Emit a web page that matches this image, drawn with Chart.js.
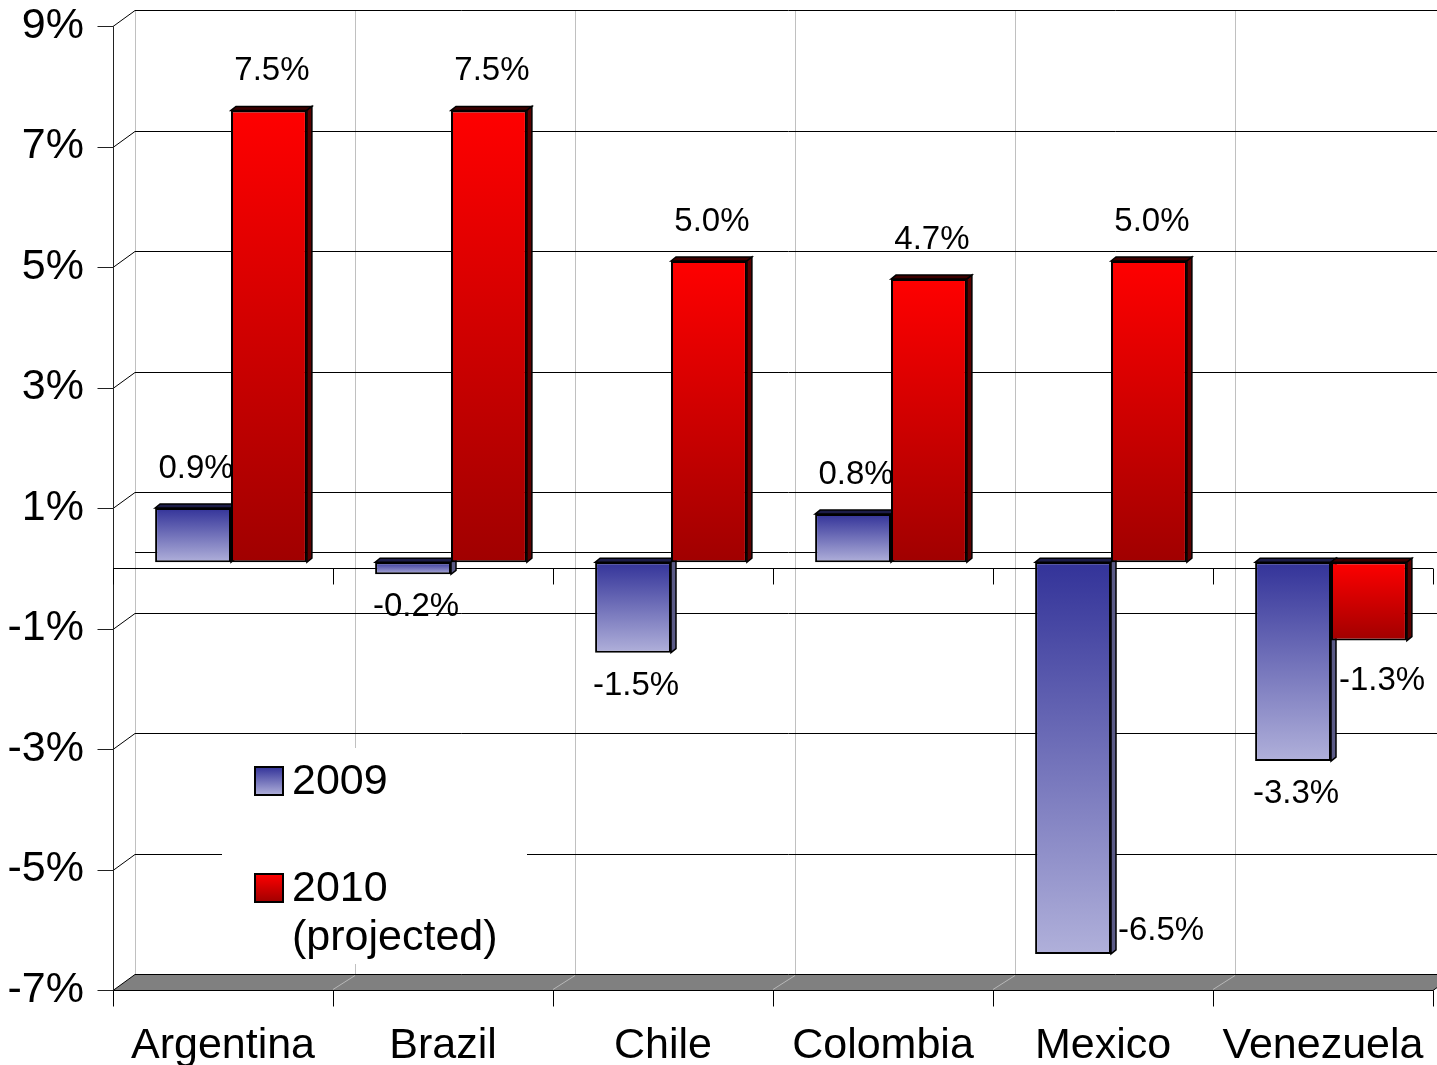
<!DOCTYPE html>
<html>
<head>
<meta charset="utf-8">
<title>Latin America growth</title>
<script src="https://cdn.jsdelivr.net/npm/chart.js@4.4.1/dist/chart.umd.min.js"></script>
<style>
  html, body { margin: 0; padding: 0; background: #fff; overflow: hidden; }
  #wrap { width: 1441px; height: 1065px; }
</style>
</head>
<body>
<div id="wrap"><canvas id="growthChart" width="1441" height="1065"></canvas></div>
<script>
// Values
const countries = ['Argentina', 'Brazil', 'Chile', 'Colombia', 'Mexico', 'Venezuela'];
const growth2009 = [0.9, -0.2, -1.5, 0.8, -6.5, -3.3];
const growth2010 = [7.5, 7.5, 5.0, 4.7, 5.0, -1.3];
const seriesNames = ['2009', '2010\n(projected)'];
const yTicks = [-7, -5, -3, -1, 1, 3, 5, 7, 9];

// fake 3D offsets (bar plane is the chart area)
const FRONT = { dx: -8, dy: 6 };
const BACK = { dx: 14, dy: -10 };
const DEPTH = { dx: 5, dy: -4 };
const FONT = "'Liberation Sans', Arial, sans-serif";

const blueStops = ['#333399', '#b0b0da'];
const redStops = ['#ff0000', '#a00000'];
const topFace = ['#1c1c48', '#3c0000'];
const sideFace = ['#5a5a86', '#5a0000'];

function barGradient(context, stops) {
  const chart = context.chart;
  if (!chart.chartArea || context.type !== 'data') return stops[0];
  const y = chart.scales.y;
  const v = context.raw;
  const p1 = y.getPixelForValue(Math.max(v, 0));
  const p2 = y.getPixelForValue(Math.min(v, 0));
  const g = chart.ctx.createLinearGradient(0, p1, 0, p2 + 0.01);
  g.addColorStop(0, stops[0]);
  g.addColorStop(1, stops[1]);
  return g;
}

function line(ctx, x1, y1, x2, y2) {
  ctx.beginPath();
  ctx.moveTo(x1, y1);
  ctx.lineTo(x2, y2);
  ctx.stroke();
}

function poly(ctx, pts, fill, stroke) {
  ctx.beginPath();
  ctx.moveTo(pts[0][0], pts[0][1]);
  for (let i = 1; i < pts.length; i++) ctx.lineTo(pts[i][0], pts[i][1]);
  ctx.closePath();
  if (fill) { ctx.fillStyle = fill; ctx.fill(); }
  if (stroke) { ctx.strokeStyle = stroke; ctx.stroke(); }
}

// walls, floor, axes and bar sides, all behind the bar fronts
const wallPlugin = {
  id: 'wall3d',
  beforeDatasetsDraw(chart) {
    const { ctx, chartArea: a, scales: { y } } = chart;
    const yMin = yTicks[0], yMax = yTicks[yTicks.length - 1];
    const n = countries.length;
    const catW = (a.right - a.left) / n;
    const py = v => Math.round(y.getPixelForValue(v)) + 0.5;
    ctx.save();
    ctx.lineWidth = 1;

    // back wall verticals
    ctx.strokeStyle = '#c0c0c0';
    for (let i = 0; i < n; i++) {
      const bx = Math.round(a.left + i * catW + BACK.dx) + 0.5;
      line(ctx, bx, py(yMax) + BACK.dy, bx, py(yMin) + BACK.dy);
    }

    // back horizontals and left wall diagonals
    ctx.strokeStyle = '#000';
    yTicks.slice(1).concat([0]).forEach(v => {
      const by = py(v) + BACK.dy;
      line(ctx, a.left + BACK.dx, by, a.right + BACK.dx, by);
      if (v !== 0) line(ctx, a.left + FRONT.dx, py(v) + FRONT.dy, a.left + BACK.dx, by);
    });

    // floor
    const fy = py(yMin);
    poly(ctx, [
      [a.left + FRONT.dx, fy + FRONT.dy], [a.right + FRONT.dx, fy + FRONT.dy],
      [a.right + BACK.dx, fy + BACK.dy], [a.left + BACK.dx, fy + BACK.dy]
    ], '#808080', '#000');
    ctx.strokeStyle = '#b8b8b8';
    for (let i = 1; i < n; i++) {
      const cx = a.left + i * catW;
      line(ctx, cx + FRONT.dx, fy + FRONT.dy - 1, cx + BACK.dx, fy + BACK.dy + 1);
    }

    // front value axis
    ctx.strokeStyle = '#222';
    const ax = Math.round(a.left + FRONT.dx) + 0.5;
    line(ctx, ax, py(yMax) + FRONT.dy, ax, fy + FRONT.dy);
    yTicks.forEach(v => line(ctx, ax - 16, py(v) + FRONT.dy, ax, py(v) + FRONT.dy));

    // zero line and floor front edge with category ticks
    const zy = py(0) + FRONT.dy;
    ctx.strokeStyle = '#000';
    line(ctx, a.left + FRONT.dx, zy, a.right + FRONT.dx, zy);
    for (let i = 0; i <= n; i++) {
      const cx = Math.round(a.left + i * catW + FRONT.dx) + 0.5;
      line(ctx, cx, zy, cx, zy + 16);
      line(ctx, cx, fy + FRONT.dy, cx, fy + FRONT.dy + 16);
    }

    // bar top and side faces
    ctx.lineWidth = 1.5;
    chart.data.datasets.forEach((ds, di) => {
      chart.getDatasetMeta(di).data.forEach(el => {
        const left = el.x - el.width / 2;
        const right = el.x + el.width / 2;
        const top = Math.min(el.y, el.base);
        const bottom = Math.max(el.y, el.base);
        poly(ctx, [[left, top], [left + DEPTH.dx, top + DEPTH.dy],
          [right + DEPTH.dx, top + DEPTH.dy], [right, top]], topFace[di], '#000');
        poly(ctx, [[right, top], [right + DEPTH.dx, top + DEPTH.dy],
          [right + DEPTH.dx, bottom + DEPTH.dy], [right, bottom]], sideFace[di], '#000');
      });
    });
    ctx.restore();
  }
};

// value labels; a couple of them are moved off their bars like in the original
const labelAnchors = [
  ['auto', 'auto', 'auto', 'auto', 'right', 'auto'],
  ['auto', 'auto', 'auto', 'auto', 'auto', 'belowRight']
];

const valueLabelPlugin = {
  id: 'valueLabels',
  afterDatasetsDraw(chart) {
    const ctx = chart.ctx;
    ctx.save();
    ctx.font = '33px ' + FONT;
    ctx.fillStyle = '#000';
    ctx.textBaseline = 'middle';
    chart.data.datasets.forEach((ds, di) => {
      chart.getDatasetMeta(di).data.forEach((el, i) => {
        const v = ds.data[i];
        const text = v.toFixed(1) + '%';
        const top = Math.min(el.y, el.base);
        const bottom = Math.max(el.y, el.base);
        const anchor = labelAnchors[di][i];
        if (anchor === 'right') {
          ctx.textAlign = 'left';
          ctx.fillText(text, el.x + el.width / 2 + 7, bottom - 23);
        } else if (anchor === 'belowRight') {
          ctx.textAlign = 'left';
          ctx.fillText(text, el.x - el.width / 2 + 8, bottom + 40);
        } else if (v >= 0) {
          ctx.textAlign = 'center';
          ctx.fillText(text, el.x + 3, top - 39);
        } else {
          ctx.textAlign = 'center';
          ctx.fillText(text, el.x + 3, bottom + 33);
        }
      });
    });
    ctx.restore();
  }
};

const legendPlugin = {
  id: 'boxLegend',
  afterDatasetsDraw(chart) {
    const ctx = chart.ctx;
    ctx.save();
    ctx.fillStyle = '#fff';
    ctx.fillRect(222, 748, 305, 216);
    const rows = [767, 874];
    const stops = [blueStops, redStops];
    ctx.font = '43px ' + FONT;
    ctx.textAlign = 'left';
    ctx.textBaseline = 'middle';
    seriesNames.forEach((name, i) => {
      const top = rows[i];
      const g = ctx.createLinearGradient(0, top, 0, top + 28);
      g.addColorStop(0, stops[i][0]);
      g.addColorStop(1, stops[i][1]);
      ctx.fillStyle = g;
      ctx.fillRect(255, top, 28, 28);
      ctx.lineWidth = 2;
      ctx.strokeStyle = '#000';
      ctx.strokeRect(255, top, 28, 28);
      ctx.fillStyle = '#000';
      name.split('\n').forEach((ln, k) => {
        ctx.fillText(ln, 292, top + 15 + k * 49);
      });
    });
    ctx.restore();
  }
};

const ctx = document.getElementById('growthChart').getContext('2d');
const growthChart = new Chart(ctx, {
  type: 'bar',
  data: {
    labels: countries,
    datasets: [{
      label: seriesNames[0],
      data: growth2009,
      backgroundColor: c => barGradient(c, blueStops),
      borderColor: '#000',
      borderWidth: 2,
      borderSkipped: false,
      categoryPercentage: 0.69,
      barPercentage: 1.0
    }, {
      label: seriesNames[1],
      data: growth2010,
      backgroundColor: c => barGradient(c, redStops),
      borderColor: '#000',
      borderWidth: 2,
      borderSkipped: false,
      categoryPercentage: 0.69,
      barPercentage: 1.0
    }]
  },
  options: {
    responsive: false,
    animation: false,
    layout: { padding: { top: 20, left: 0, right: 0, bottom: 0 } },
    plugins: {
      legend: { display: false },
      tooltip: { enabled: false }
    },
    scales: {
      x: {
        grid: { display: false },
        border: { display: false },
        ticks: {
          color: '#000',
          font: { family: FONT, size: 43 },
          padding: 28,
          labelOffset: FRONT.dx,
          maxRotation: 0,
          autoSkip: false
        },
        afterFit: s => { s.height = 81; s.paddingLeft = 0; s.paddingRight = 0; }
      },
      y: {
        min: yTicks[0],
        max: yTicks[yTicks.length - 1],
        grid: { display: false },
        border: { display: false },
        afterBuildTicks: s => { s.ticks = yTicks.map(v => ({ value: v })); },
        ticks: {
          color: '#000',
          font: { family: FONT, size: 43 },
          padding: 29,
          labelOffset: FRONT.dy,
          autoSkip: false,
          callback: v => v + '%'
        },
        afterFit: s => { s.width = 121; s.paddingTop = 0; s.paddingBottom = 0; }
      }
    }
  },
  plugins: [wallPlugin, valueLabelPlugin, legendPlugin]
});
</script>
</body>
</html>
